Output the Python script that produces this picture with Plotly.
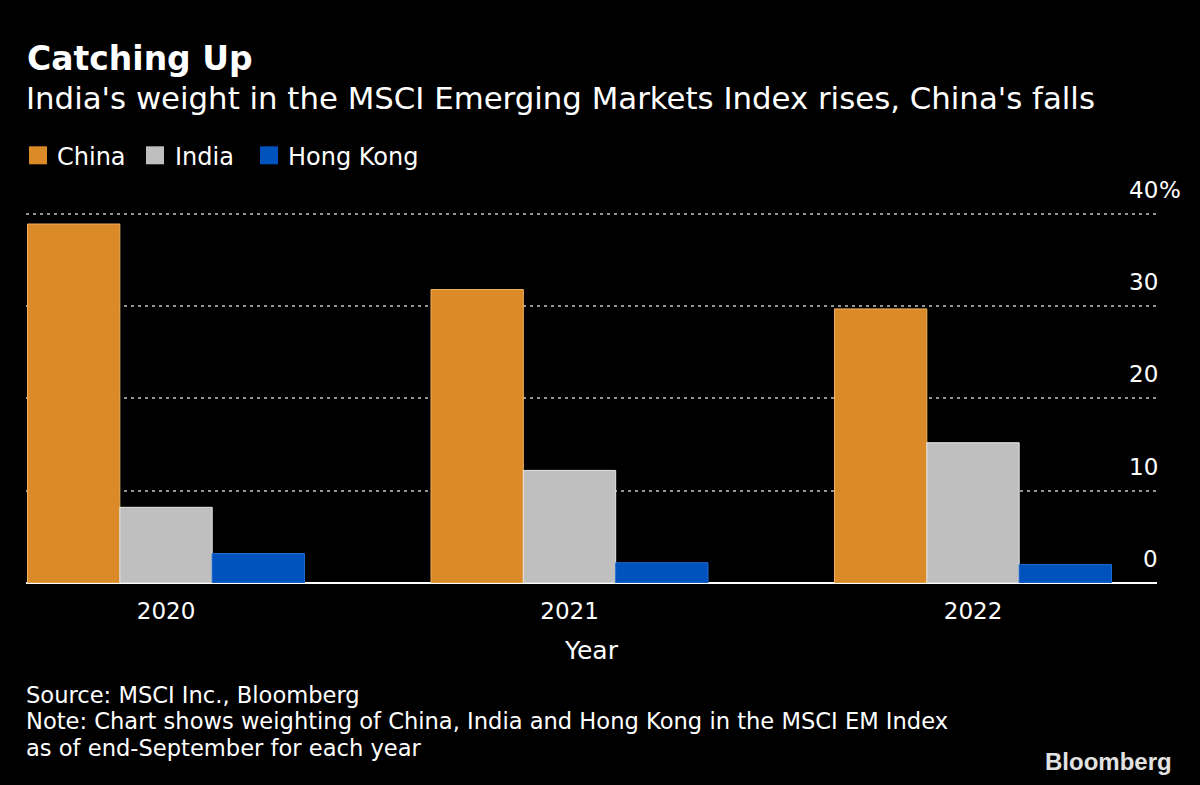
import plotly.graph_objects as go

# ---- data ----
years = ["2020", "2021", "2022"]
china = [38.9, 31.8, 29.7]
india = [8.2, 12.2, 15.2]
hong_kong = [3.2, 2.2, 2.0]
series_names = ["China", "India", "Hong Kong"]
y_ticks = [0, 10, 20, 30, 40]
y_tick_labels = ["0", "10", "20", "30", "40"]

colors = ["#DA8A27", "#BFBFBF", "#0052BC"]
edge_colors = ["#F0B060", "#E6E6E6", "#1E6AD0"]

W, H = 1200, 785
L, R = 26, 1157          # plot area left/right in px
T, B = 211.7, 582.7      # plot area top/bottom in px
FONT = "DejaVu Sans"


def px_x(px):
    return (px - L) / (R - L)


def px_y(py):
    return (B - py) / (B - T)


fig = go.Figure()
for name, vals, c, ec in zip(series_names, [china, india, hong_kong], colors, edge_colors):
    fig.add_trace(go.Bar(
        x=years, y=vals, name=name,
        marker=dict(color=c, line=dict(color=ec, width=1)),
        showlegend=False,
    ))

annotations = []
# title and subtitle
annotations.append(dict(text="<b>Catching Up</b>", x=px_x(25), y=px_y(58), xanchor="left", yanchor="middle",
                        font=dict(size=33, color="white", family=FONT)))
annotations.append(dict(text="India's weight in the MSCI Emerging Markets Index rises, China's falls",
                        x=px_x(24), y=px_y(98), xanchor="left", yanchor="middle",
                        font=dict(size=30.8, color="white", family=FONT)))

# custom legend
legend_sq = [(29, 47), (146, 164), (260, 278)]
legend_txt_x = [57, 175, 288]
shapes = []
for (x0, x1), tx, name, c in zip(legend_sq, legend_txt_x, series_names, colors):
    shapes.append(dict(type="rect", xref="paper", yref="paper", x0=px_x(x0), x1=px_x(x1),
                       y0=px_y(164), y1=px_y(146), fillcolor=c, line=dict(width=0)))
    annotations.append(dict(text=name, x=px_x(tx - 2), y=px_y(157), xanchor="left", yanchor="middle",
                            font=dict(size=24, color="white", family=FONT)))

# y tick labels (right side, above gridlines)
for v, lab in zip(y_ticks, y_tick_labels):
    annotations.append(dict(text=lab, xref="paper", yref="y", x=px_x(1160), y=v, xanchor="right",
                            yanchor="bottom", yshift=9, font=dict(size=23, color="white", family=FONT)))
annotations.append(dict(text="%", xref="paper", yref="y", x=px_x(1157), y=y_ticks[-1], xanchor="left",
                        yanchor="bottom", yshift=9, font=dict(size=23, color="white", family=FONT)))

# footer
footer = [("Source: MSCI Inc., Bloomberg", 695),
          ("Note: Chart shows weighting of China, India and Hong Kong in the MSCI EM Index", 721),
          ("as of end-September for each year", 748)]
for txt, cy in footer:
    annotations.append(dict(text=txt, x=px_x(24), y=px_y(cy), xanchor="left", yanchor="middle",
                            font=dict(size=22.6, color="white", family=FONT)))
annotations.append(dict(text="<b>Bloomberg</b>", x=px_x(1174), y=px_y(761), xanchor="right", yanchor="middle",
                        font=dict(size=24, color="#E2E2E2", family="Liberation Sans")))

for a in annotations:
    a.setdefault("xref", "paper")
    a.setdefault("yref", "paper")
    a["showarrow"] = False

fig.update_layout(
    width=W, height=H,
    margin=dict(l=L, r=W - R, t=T, b=H - B, pad=0),
    paper_bgcolor="black", plot_bgcolor="black",
    barmode="group", bargap=0.3135, bargroupgap=0,
    annotations=annotations, shapes=shapes,
    font=dict(family=FONT, color="white"),
    showlegend=False,
)
fig.update_xaxes(
    type="category", range=[-0.347, 2.456],
    showgrid=False, zeroline=False, showline=False,
    ticks="", ticklabelstandoff=12,
    tickfont=dict(size=23, color="white", family=FONT),
    title=dict(text="Year", font=dict(size=25, color="white", family=FONT), standoff=18),
)
fig.update_yaxes(
    range=[0, 40.2], tickvals=y_ticks, showticklabels=False,
    showgrid=True, gridcolor="#959595", gridwidth=1.5, griddash="3px,4px",
    zeroline=True, zerolinecolor="white", zerolinewidth=2, showline=False,
)

fig.write_html("out.html", config={"displayModeBar": False},
               post_script="document.body.style.margin='0';document.body.style.background='black';")
